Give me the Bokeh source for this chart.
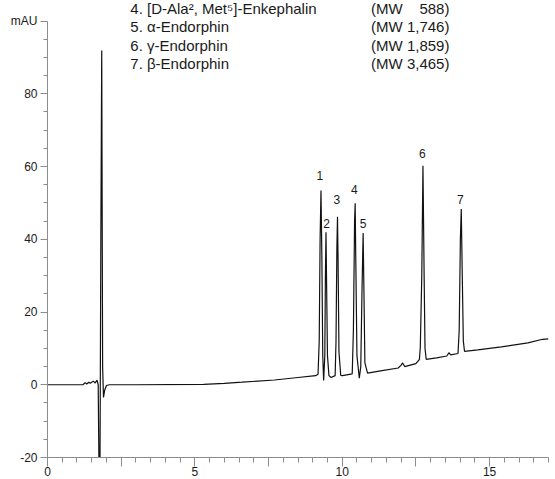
from bokeh.plotting import figure
from bokeh.models import FixedTicker, Label, Range1d, ColumnDataSource
from bokeh.embed import file_html
from bokeh.resources import INLINE
from bokeh.core.properties import value

# ---- chromatogram trace (time in min, absorbance in mAU) ----
time_min = [0.00, 1.20, 1.28, 1.33, 1.40, 1.45, 1.55, 1.62, 1.68, 1.72, 1.75, 1.78, 1.81, 1.84,
            1.87, 1.90, 1.94, 2.00, 2.10, 3.00, 5.30, 6.00, 6.60, 7.70, 8.50, 9.10,
            9.18, 9.22, 9.25, 9.28, 9.31, 9.34, 9.37,
            9.41, 9.43, 9.45, 9.47, 9.50, 9.55, 9.62,
            9.76, 9.79, 9.82, 9.84, 9.86, 9.89, 9.95, 10.01,
            10.34, 10.38, 10.42, 10.44, 10.46, 10.50, 10.58,
            10.63, 10.67, 10.71, 10.73, 10.77, 10.86, 11.30, 11.90, 12.00, 12.05, 12.12,
            12.50, 12.62, 12.65, 12.70, 12.74, 12.78, 12.81, 12.85, 13.20, 13.55, 13.62, 13.68,
            13.93, 13.97, 14.01, 14.04, 14.07, 14.11, 14.15, 14.60, 15.40, 16.30, 16.80, 17.00]
signal_mau = [0.0, 0.0, 0.6, 0.2, 0.7, 0.4, 1.0, 0.5, 1.3, 0.0, -25.0, -25.0, 40.0, 91.9,
              5.0, -3.5, -1.5, -0.2, 0.0, 0.0, 0.1, 0.4, 0.7, 1.3, 2.0, 2.5,
              2.9, 12.0, 40.0, 53.4, 35.0, 8.0, 1.2,
              8.0, 30.0, 41.9, 28.0, 8.0, 2.5, 2.0,
              2.5, 12.0, 38.0, 46.2, 34.0, 9.0, 2.6, 2.5,
              3.0, 15.0, 45.0, 49.9, 35.0, 8.0, 1.8,
              5.0, 25.0, 41.7, 30.0, 6.0, 3.2, 3.8, 4.6, 5.4, 6.0, 5.0,
              5.8, 7.0, 10.3, 30.0, 60.2, 30.0, 10.0, 7.0, 7.4, 7.9, 8.8, 8.2,
              8.6, 15.0, 40.0, 48.3, 32.0, 12.0, 9.2, 9.6, 10.4, 11.5, 12.5, 12.6]

# ---- peak numbers and where their numbers sit ----
peak_ids = ["1", "2", "3", "4", "5", "6", "7"]
peak_label_rt = [9.24, 9.47, 9.82, 10.41, 10.71, 12.72, 14.01]
peak_label_mau = [57.5, 44.3, 50.8, 53.8, 44.2, 63.6, 50.8]

# ---- peak identification text ----
compounds = ["4. [D-Ala\u00b2, Met\u2075]-Enkephalin", "5. \u03b1-Endorphin",
             "6. \u03b3-Endorphin", "7. \u03b2-Endorphin"]
mol_weights = ["(MW\u00a0\u00a0\u00a0\u00a0588)", "(MW 1,746)", "(MW 1,859)", "(MW 3,465)"]

# ---- axis ticks ----
x_major = [0, 2.5, 5, 7.5, 10, 12.5, 15]
x_labels = {0: "0", 2.5: "", 5: "5", 7.5: "", 10: "10", 12.5: "", 15: "15"}
x_minor = [i * 0.5 for i in range(0, 35)]
y_major = [-20, 0, 20, 40, 60, 80, 100]
y_labels = {-20: "-20", 0: "0", 20: "20", 40: "40", 60: "60", 80: "80", 100: "mAU"}
y_minor = [-20 + 5 * i for i in range(0, 25)]

FONT = "Liberation Sans"
AXIS_GREY = "#8c8c8c"
TEXT = "#1a1a1a"

# frame runs to the very top of the canvas so the text block stays inside it;
# the y axis line itself is bounded to -20..100
PX_PER_MAU = 3.635
TOP_GAP_PX = 20.5
y_top = 100 + TOP_GAP_PX / PX_PER_MAU

p = figure(width=555, height=479, x_range=Range1d(0, 17), y_range=Range1d(-20, y_top),
           output_backend="svg", toolbar_location=None,
           min_border_left=47, min_border_right=7, min_border_top=0, min_border_bottom=22)
p.outline_line_color = None
p.grid.visible = False
p.background_fill_color = "white"
p.border_fill_color = "white"

src = ColumnDataSource(dict(t=time_min, s=signal_mau))
p.line("t", "s", source=src, line_color="#111111", line_width=1.2)

lab_src = ColumnDataSource(dict(x=peak_label_rt, y=peak_label_mau, t=peak_ids))
p.text("x", "y", text="t", source=lab_src, text_font=value(FONT), text_font_size="12px",
       text_align="center", text_baseline="middle", text_color=TEXT)

# x axis
xa = p.xaxis[0]
xa.ticker = FixedTicker(ticks=x_major, minor_ticks=x_minor)
xa.major_label_overrides = x_labels
xa.axis_line_color = AXIS_GREY
xa.major_tick_line_color = AXIS_GREY
xa.minor_tick_line_color = AXIS_GREY
xa.major_tick_in = 0
xa.major_tick_out = 9
xa.minor_tick_in = 0
xa.minor_tick_out = 5
xa.major_label_standoff = 0
xa.major_label_text_font = FONT
xa.major_label_text_font_size = "12px"
xa.major_label_text_color = TEXT

# y axis
ya = p.yaxis[0]
ya.bounds = (-20, 100)
ya.ticker = FixedTicker(ticks=y_major, minor_ticks=y_minor)
ya.major_label_overrides = y_labels
ya.axis_line_color = AXIS_GREY
ya.major_tick_line_color = AXIS_GREY
ya.minor_tick_line_color = AXIS_GREY
ya.major_tick_in = 0
ya.major_tick_out = 7
ya.minor_tick_in = 0
ya.minor_tick_out = 4
ya.major_label_standoff = 3
ya.major_label_text_font = FONT
ya.major_label_text_font_size = "12px"
ya.major_label_text_color = TEXT

p.add_layout(Label(x=17, y=-20, x_offset=6, y_offset=-9, text="min", text_align="right",
                   text_baseline="top", text_font=FONT, text_font_size="12px",
                   text_color=TEXT))

# identification text block
first_y = 103.55
step = 5.09
for i, (name, mw) in enumerate(zip(compounds, mol_weights)):
    yy = first_y - i * step
    p.add_layout(Label(x=2.81, y=yy, text=name, text_align="left", text_baseline="middle",
                       text_font=FONT, text_font_size="15px", text_color=TEXT))
    p.add_layout(Label(x=10.98, y=yy, text=mw, text_align="left", text_baseline="middle",
                       text_font=FONT, text_font_size="15px", text_color=TEXT))

open("out.html", "w").write(file_html(p, INLINE))
